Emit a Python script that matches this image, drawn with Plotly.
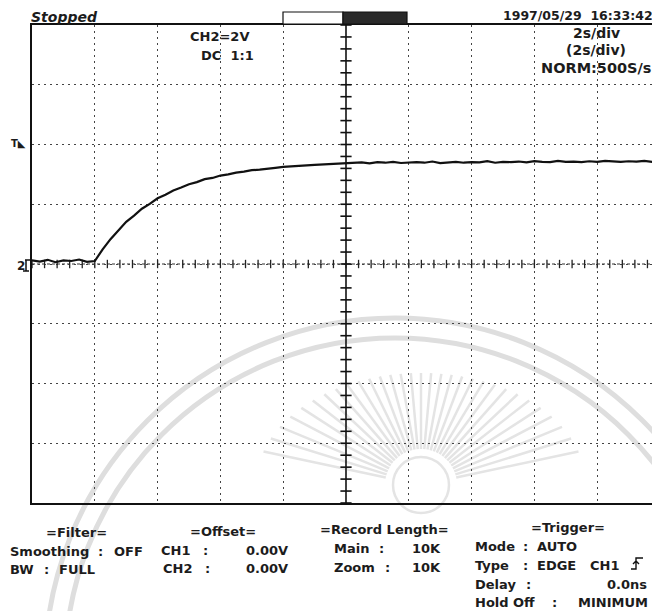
import math
import plotly.graph_objects as go

SAMPLE_STEP_S = 0.25          # seconds between read-off samples
ch2_volts = [
    0.12, 0.08, 0.14, 0.06, 0.12, 0.10, 0.15, 0.07, 0.10,
    0.49, 0.83, 1.12, 1.41, 1.62, 1.85, 2.01, 2.20,
    2.32, 2.46, 2.56, 2.67, 2.74, 2.84, 2.88, 2.96,
    3.00, 3.06, 3.09, 3.14, 3.16, 3.20, 3.22, 3.25,
    3.26, 3.29, 3.30, 3.32, 3.33, 3.35, 3.35, 3.37,
    3.38, 3.40, 3.37, 3.41, 3.39, 3.42, 3.38, 3.40, 3.41, 3.39,
    3.43, 3.38, 3.40, 3.42, 3.39, 3.41, 3.40, 3.44, 3.39, 3.42,
    3.41, 3.43, 3.40, 3.44, 3.42, 3.41, 3.45, 3.42, 3.43, 3.41,
    3.44, 3.42, 3.45, 3.43, 3.42, 3.44, 3.43, 3.45, 3.42, 3.44,
]
time_s = [round(i * SAMPLE_STEP_S, 2) for i in range(len(ch2_volts))]

SEC_PER_DIV = 2.0
VOLT_PER_DIV = 2.0
N_XDIV = 10
N_YDIV = 8
X_MAX = SEC_PER_DIV * N_XDIV
Y_HALF = VOLT_PER_DIV * N_YDIV / 2
X_CENTER = X_MAX / 2

top_labels = {
    "status": "Stopped",
    "date": "1997/05/29\u00a0\u00a016:33:42",
    "tdiv": "2s/div",
    "tdiv2": "(2s/div)",
    "rate": "NORM:500S/s",
    "ch": "CH2=2V",
    "coupling": "DC\u00a0\u00a01:1",
}

# ---------------- geometry (page pixels) ----------------
PAGE_OFF = 8                  # default body margin of the html page
W, H = 660 - PAGE_OFF, 611 - PAGE_OFF
L, R, T, B = 32, 660, 25, 503  # plot box in page pixels


def px(x):
    return (x - L) / (R - L)


def py(y):
    return (B - y) / (B - T)


fig = go.Figure()

# ---- faint watermark seal in the background (decoration) ----
WM = "#dedede"
for rr in (350, 330):
    cx, cy = 395, 668
    fig.add_shape(type="circle", xref="paper", yref="paper", layer="below",
                  x0=px(cx - rr), x1=px(cx + rr), y0=py(cy + rr), y1=py(cy - rr),
                  line=dict(color=WM, width=5))
sun_x, sun_y = 421, 485
for k in range(31):
    ang = math.radians(192 + k * 5.2)
    ca, sa = math.cos(ang), math.sin(ang)
    r_out = 1 / math.sqrt((ca / 165) ** 2 + (sa / 112) ** 2)
    fig.add_shape(type="line", xref="paper", yref="paper", layer="below",
                  x0=px(sun_x + 36 * ca), y0=py(sun_y + 36 * sa),
                  x1=px(sun_x + r_out * ca), y1=py(sun_y + r_out * sa),
                  line=dict(color="#e4e4e4", width=2.5))
fig.add_shape(type="circle", xref="paper", yref="paper", layer="below",
              x0=px(sun_x - 28), x1=px(sun_x + 28), y0=py(sun_y + 28), y1=py(sun_y - 28),
              line=dict(color="#e4e4e4", width=2.5))

# centre graticule tick marks
tick_x = [i * SEC_PER_DIV / 5 for i in range(N_XDIV * 5 + 1)]
fig.add_trace(go.Scatter(
    x=tick_x, y=[0] * len(tick_x), mode="markers",
    marker=dict(symbol="line-ns", size=6, line=dict(width=1.3, color="#222")),
    hoverinfo="skip", showlegend=False))
tick_y = [-Y_HALF + i * VOLT_PER_DIV / 5 for i in range(N_YDIV * 5 + 1)]
fig.add_trace(go.Scatter(
    x=[X_CENTER] * len(tick_y), y=tick_y, mode="markers",
    marker=dict(symbol="line-ew", size=8, line=dict(width=1.6, color="#111")),
    hoverinfo="skip", showlegend=False))

# CH2 trace
fig.add_trace(go.Scatter(
    x=time_s, y=ch2_volts, mode="lines",
    line=dict(color="#111111", width=2.2),
    hoverinfo="skip", showlegend=False))

# centre lines
fig.add_shape(type="line", x0=0, x1=X_MAX, y0=0, y1=0,
              line=dict(color="#333", width=1, dash="3px,2px"), layer="below")
fig.add_shape(type="line", x0=X_CENTER, x1=X_CENTER, y0=-Y_HALF, y1=Y_HALF,
              line=dict(color="#111", width=1.6), layer="below")

# record-position indicator on top
fig.add_shape(type="rect", xref="paper", yref="paper",
              x0=px(283), x1=px(343), y0=py(24), y1=py(12),
              line=dict(color="#111", width=1.2), fillcolor="white")
fig.add_shape(type="rect", xref="paper", yref="paper",
              x0=px(343), x1=px(407), y0=py(24), y1=py(12),
              line=dict(color="#111", width=1.2), fillcolor="#2a2a2a")

# ground marker symbol for channel 2
fig.add_shape(type="path", xref="paper", yref="paper",
              path=f"M {px(25)},{py(260)} L {px(31)},{py(260)} M {px(26)},{py(260)} L {px(26)},{py(271)} "
                   f"M {px(23)},{py(271)} L {px(29)},{py(271)}",
              line=dict(color="#111", width=1.5))

# trigger edge symbol
fig.add_shape(type="path", xref="paper", yref="paper",
              path=f"M {px(631)},{py(569)} L {px(636)},{py(569)} L {px(636)},{py(558)} L {px(643)},{py(558)} "
                   f"M {px(633)},{py(564)} L {px(636)},{py(561)} L {px(639)},{py(564)}",
              line=dict(color="#111", width=1.4))

FONT = "DejaVu Sans"
INK = "#1c1c1c"


def txt(x, y, s, size=13, anchor="left", weight="bold", style="normal"):
    fig.add_annotation(
        x=px(x), y=py(y), xref="paper", yref="paper", text=s, showarrow=False,
        xanchor=anchor, yanchor="middle",
        font=dict(family=FONT, size=size, color=INK, weight=weight, style=style))


# header
txt(29, 17, top_labels["status"], size=14, style="italic")
txt(655, 16, top_labels["date"], size=12.5, anchor="right")
txt(596, 33, top_labels["tdiv"], size=14, anchor="center")
txt(596, 50, top_labels["tdiv2"], size=14, anchor="center")
txt(596, 68, top_labels["rate"], size=14.5, anchor="center")
txt(188, 37, top_labels["ch"], size=13)
txt(199, 55, top_labels["coupling"], size=13)

# left-side markers
txt(9, 143, "T\u25e3", size=10)
txt(15, 266, "2", size=12)

# bottom panel
a1, a2, a3 = 532, 551, 569          # left columns rows
m1, m2, m3 = 529, 548, 567          # middle column rows
b1, b2, b3, b4, b5 = 527, 546, 565, 584, 602   # right column rows

txt(44, a1, "=Filter=")
txt(8, a2, "Smoothing")
txt(96, a2, ":")
txt(112, a2, "OFF")
txt(8, a3, "BW")
txt(42, a3, ":")
txt(57, a3, "FULL")

txt(188, a1 - 1, "=Offset=")
txt(159, a2 - 1, "CH1")
txt(201, a2 - 1, ":")
txt(244, a2 - 1, "0.00V")
txt(161, a3 - 1, "CH2")
txt(203, a3 - 1, ":")
txt(244, a3 - 1, "0.00V")

txt(318, m1, "=Record\u00a0Length=")
txt(332, m2, "Main")
txt(377, m2, ":")
txt(410, m2, "10K")
txt(332, m3, "Zoom")
txt(383, m3, ":")
txt(410, m3, "10K")

txt(529, b1, "=Trigger=")
txt(473, b2, "Mode")
txt(521, b2, ":")
txt(535, b2, "AUTO")
txt(473, b3, "Type")
txt(521, b3, ":")
txt(535, b3, "EDGE")
txt(588, b3, "CH1")
txt(473, b4, "Delay")
txt(524, b4, ":")
txt(649, b4, "0.0ns", anchor="right")
txt(473, b5, "Hold")
txt(511, b5, "Off")
txt(550, b5, ":")
txt(650, b5, "MINIMUM", anchor="right")

grid_common = dict(
    showgrid=True, gridcolor="#444", gridwidth=1.3, griddash="1.5px,4.5px",
    zeroline=False, showticklabels=False, ticks="", fixedrange=True,
    linecolor="#111", linewidth=2,
)
fig.update_layout(
    width=W, height=H,
    margin=dict(l=L - PAGE_OFF, r=660 - R, t=T - PAGE_OFF, b=611 - B, pad=0),
    paper_bgcolor="white", plot_bgcolor="rgba(0,0,0,0)",
    xaxis=dict(range=[0, X_MAX], dtick=SEC_PER_DIV, tick0=0,
               showline=True, mirror=True, **grid_common),
    yaxis=dict(range=[-Y_HALF, Y_HALF], dtick=VOLT_PER_DIV, tick0=0,
               showline=True, mirror=False, **grid_common),
    showlegend=False,
)

fig.write_html("out.html")
